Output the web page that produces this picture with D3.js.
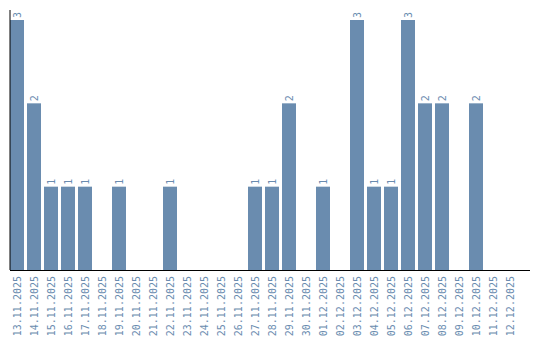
<!DOCTYPE html>
<html>
<head>
<meta charset="utf-8">
<script src="https://cdn.jsdelivr.net/npm/d3@7"></script>
<style>
  body { margin: 0; background: #fff; }
  text { font-family: "DejaVu Sans Mono", monospace; font-size: 10px; fill: #6a8caf; }
</style>
</head>
<body>
<div id="chart"></div>
<script>
const dates = [
  "13.11.2025", "14.11.2025", "15.11.2025", "16.11.2025", "17.11.2025",
  "18.11.2025", "19.11.2025", "20.11.2025", "21.11.2025", "22.11.2025",
  "23.11.2025", "24.11.2025", "25.11.2025", "26.11.2025", "27.11.2025",
  "28.11.2025", "29.11.2025", "30.11.2025", "01.12.2025", "02.12.2025",
  "03.12.2025", "04.12.2025", "05.12.2025", "06.12.2025", "07.12.2025",
  "08.12.2025", "09.12.2025", "10.12.2025", "11.12.2025", "12.12.2025"
];
const counts = [3, 2, 1, 1, 1, 0, 1, 0, 0, 1, 0, 0, 0, 0, 1, 1, 2, 0, 1, 0, 3, 1, 1, 3, 2, 2, 0, 2, 0, 0];

const width = 540;
const height = 340;
const margin = {top: 10, bottom: 70, left: 10, right: 10};
const baseY = height - margin.bottom;

const data = dates.map((d, i) => ({date: d, count: counts[i]}));

// 17px step, 14px bars
const xScale = d3.scaleBand()
    .domain(dates)
    .range([margin.left, margin.left + dates.length * 17 - 3])
    .paddingInner(3 / 17)
    .paddingOuter(0);

const yScale = d3.scaleLinear()
    .domain([0, 3.12])
    .range([baseY, margin.top]);

const svg = d3.select('#chart')
    .append('svg')
    .attr('width', width)
    .attr('height', height);

// bars
svg.selectAll('.bar')
    .data(data.filter(d => d.count > 0))
    .enter()
    .append('rect')
    .attr('class', 'bar')
    .attr('x', d => xScale(d.date))
    .attr('y', d => yScale(d.count))
    .attr('width', xScale.bandwidth())
    .attr('height', d => baseY - yScale(d.count))
    .attr('fill', '#6a8caf');

// value labels
svg.selectAll('.val')
    .data(data.filter(d => d.count > 0))
    .enter()
    .append('text')
    .attr('class', 'val')
    .attr('transform', d => `translate(${xScale(d.date) + xScale.bandwidth() / 2 + 3.5},${yScale(d.count) - 2}) rotate(-90)`)
    .attr('text-anchor', 'start')
    .text(d => d.count);

// axis lines
svg.append('line')
    .attr('x1', margin.left).attr('x2', margin.left)
    .attr('y1', margin.top).attr('y2', baseY)
    .attr('stroke', '#000');
svg.append('line')
    .attr('x1', margin.left).attr('x2', width - margin.right)
    .attr('y1', baseY + 0.5).attr('y2', baseY + 0.5)
    .attr('stroke', '#000');

// date labels
svg.selectAll('.lbl')
    .data(dates)
    .enter()
    .append('text')
    .attr('class', 'lbl')
    .attr('transform', d => `translate(${xScale(d) + xScale.bandwidth() / 2 + 3.5},${baseY + 6}) rotate(-90)`)
    .attr('text-anchor', 'end')
    .text(d => d);
</script>
</body>
</html>
